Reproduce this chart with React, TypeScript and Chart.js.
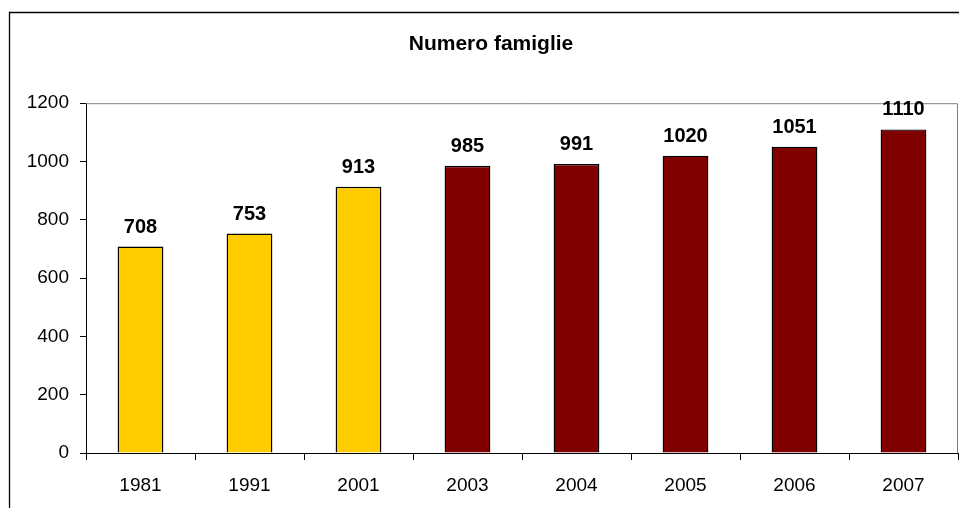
import React, { useEffect, useRef } from "react";
import { Chart, registerables } from "chart.js";

Chart.register(...registerables);

const categories = ["1981", "1991", "2001", "2003", "2004", "2005", "2006", "2007"];
const famiglie = [708, 753, 913, 985, 991, 1020, 1051, 1110];
const barColors = ["#FFCC00", "#FFCC00", "#FFCC00", "#800000", "#800000", "#800000", "#800000", "#800000"];
const titleText = "Numero famiglie";

const FONT = "'Liberation Sans', Arial, sans-serif";

const decorPlugin = {
  id: "decor",
  beforeDraw(chart: any) {
    const ctx = chart.ctx;
    ctx.save();
    ctx.strokeStyle = "#000000";
    ctx.lineWidth = 1.3;
    ctx.beginPath();
    ctx.moveTo(9.5, 1000);
    ctx.lineTo(9.5, 12.5);
    ctx.lineTo(1000, 12.5);
    ctx.stroke();
    ctx.restore();
  },
  afterDatasetsDraw(chart: any) {
    const ctx = chart.ctx;
    const { top, right, left, bottom } = chart.chartArea;
    ctx.save();
    ctx.strokeStyle = "#808080";
    ctx.lineWidth = 1;
    ctx.beginPath();
    ctx.moveTo(left, top + 0.5);
    ctx.lineTo(right - 0.5, top + 0.5);
    ctx.lineTo(right - 0.5, bottom);
    ctx.stroke();

    const meta = chart.getDatasetMeta(0);
    ctx.fillStyle = "#000000";
    ctx.font = `bold 20px ${FONT}`;
    ctx.textAlign = "center";
    ctx.textBaseline = "alphabetic";
    meta.data.forEach((el: any, i: number) => {
      ctx.fillText(String(famiglie[i]), el.x, el.y - 14);
    });
    ctx.restore();
  },
};

export default function App() {
  const ref = useRef<HTMLCanvasElement>(null);
  useEffect(() => {
    if (!ref.current) return;
    const chart = new Chart(ref.current, {
      type: "bar",
      data: {
        labels: categories,
        datasets: [
          {
            label: titleText,
            data: famiglie,
            backgroundColor: barColors,
            borderColor: "#000000",
            borderWidth: 1.4,
            categoryPercentage: 1,
            barPercentage: 0.42,
          },
        ],
      },
      options: {
        animation: false,
        responsive: false,
        maintainAspectRatio: false,
        layout: { padding: { left: 24, right: 1, top: 10, bottom: 12 } },
        plugins: {
          legend: { display: false },
          tooltip: { enabled: false },
          title: {
            display: true,
            text: titleText,
            color: "#000000",
            font: { family: FONT, size: 21, weight: "bold" },
            padding: { top: 22, bottom: 46 },
          },
        },
        scales: {
          x: {
            offset: true,
            afterFit: (scale: any) => {
              scale.height = 43;
            },
            grid: {
              display: true,
              offset: true,
              drawOnChartArea: false,
              drawTicks: true,
              tickLength: 7,
              color: "#000000",
            },
            border: { display: true, color: "#000000", width: 1 },
            ticks: {
              color: "#000000",
              font: { family: FONT, size: 19 },
              padding: 14,
              maxRotation: 0,
            },
          },
          y: {
            min: 0,
            max: 1200,
            afterFit: (scale: any) => {
              scale.width = 62;
            },
            grid: {
              display: true,
              drawOnChartArea: false,
              drawTicks: true,
              tickLength: 6,
              color: "#000000",
            },
            border: { display: true, color: "#000000", width: 1 },
            ticks: {
              stepSize: 200,
              color: "#000000",
              font: { family: FONT, size: 19 },
              padding: 11,
              callback: (v: any) => String(v),
            },
          },
        },
      },
      plugins: [decorPlugin],
    });
    return () => chart.destroy();
  }, []);

  return (
    <div
      style={{
        position: "fixed",
        left: 0,
        top: 0,
        width: 959,
        height: 508,
        overflow: "hidden",
        background: "#ffffff",
      }}
    >
      <canvas ref={ref} width={959} height={508} style={{ display: "block" }} />
    </div>
  );
}
